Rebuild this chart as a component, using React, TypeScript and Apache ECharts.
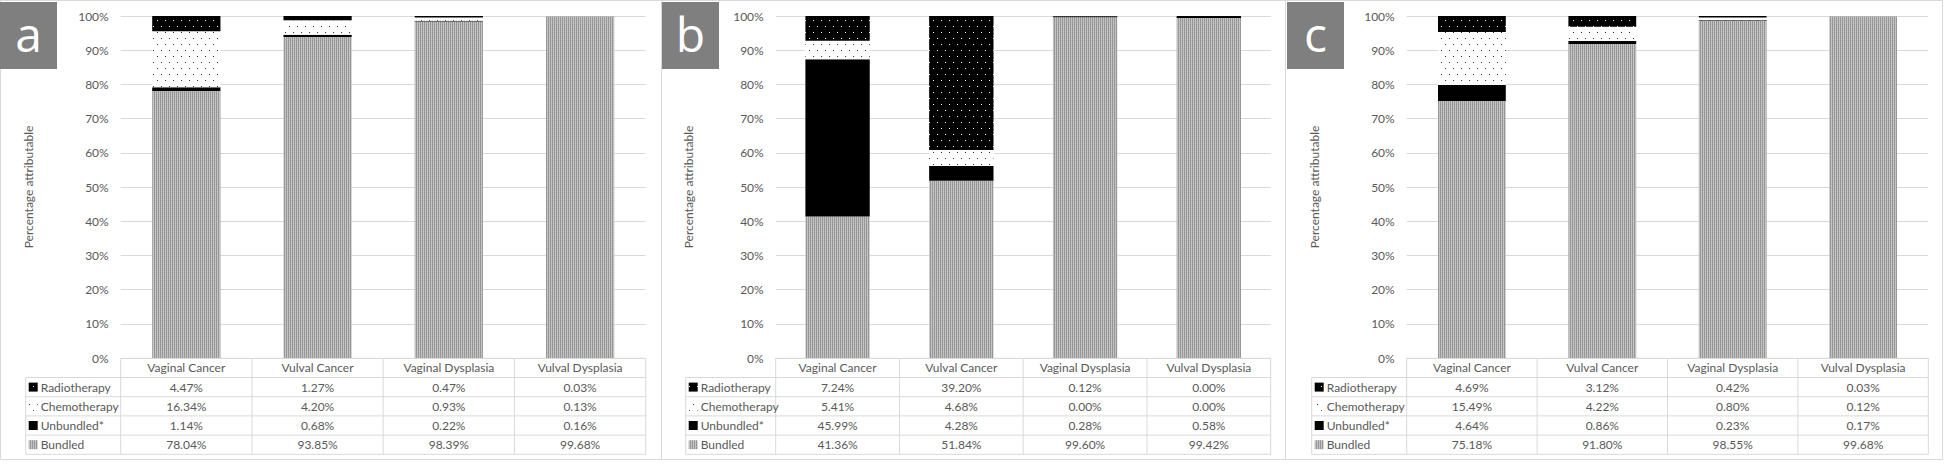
import React, { useEffect, useRef } from "react";
import * as echarts from "echarts";

// ---------------- data ----------------
const categories = ["Vaginal Cancer", "Vulval Cancer", "Vaginal Dysplasia", "Vulval Dysplasia"];
const seriesNames = ["Radiotherapy", "Chemotherapy", "Unbundled*", "Bundled"];
const panelLetters = ["a", "b", "c"];
const yAxisTitle = "Percentage attributable";

const radiotherapyA = [4.47, 1.27, 0.47, 0.03];
const chemotherapyA = [16.34, 4.2, 0.93, 0.13];
const unbundledA = [1.14, 0.68, 0.22, 0.16];
const bundledA = [78.04, 93.85, 98.39, 99.68];

const radiotherapyB = [7.24, 39.2, 0.12, 0.0];
const chemotherapyB = [5.41, 4.68, 0.0, 0.0];
const unbundledB = [45.99, 4.28, 0.28, 0.58];
const bundledB = [41.36, 51.84, 99.6, 99.42];

const radiotherapyC = [4.69, 3.12, 0.42, 0.03];
const chemotherapyC = [15.49, 4.22, 0.8, 0.12];
const unbundledC = [4.64, 0.86, 0.23, 0.17];
const bundledC = [75.18, 91.8, 98.55, 99.68];

const panelData = [
  [radiotherapyA, chemotherapyA, unbundledA, bundledA],
  [radiotherapyB, chemotherapyB, unbundledB, bundledB],
  [radiotherapyC, chemotherapyC, unbundledC, bundledC],
];

// ---------------- layout ----------------
const layout = [
  { x0: 0.5, x1: 661.5, boxX: 0, tableLeft: 25.7, gridLeft: 120.7, colW: 131.25, titleX: 28 },
  { x0: 661.5, x1: 1285.5, boxX: 662, tableLeft: 685.7, gridLeft: 775.7, colW: 123.75, titleX: 688 },
  { x0: 1285.5, x1: 1942.5, boxX: 1287, tableLeft: 1311.7, gridLeft: 1406.7, colW: 130.4, titleX: 1314 },
];
const GRID_TOP = 16;
const GRID_H = 342;
const TABLE_TOP = 358.3;
const ROW_H = 19.2;
const FONT = "Lato, 'Liberation Sans', sans-serif";
const TXT = "#595959";
const LINE = "#d9d9d9";

function makeCanvas(w: number, h: number, draw: (ctx: CanvasRenderingContext2D) => void) {
  const c = document.createElement("canvas");
  c.width = w;
  c.height = h;
  const ctx = c.getContext("2d")!;
  draw(ctx);
  return { image: c, repeat: "repeat", imageWidth: w, imageHeight: h } as any;
}

export default function App() {
  const ref = useRef<HTMLDivElement>(null);

  useEffect(() => {
    document.body.style.margin = "0";
    if (!ref.current) return;

    const radioPat = makeCanvas(8, 12, (ctx) => {
      ctx.fillStyle = "#000";
      ctx.fillRect(0, 0, 8, 12);
      ctx.fillStyle = "#fff";
      ctx.fillRect(1, 2, 1, 1);
      ctx.fillRect(5, 8, 1, 1);
    });
    const chemoPat = makeCanvas(8, 12, (ctx) => {
      ctx.fillStyle = "#fff";
      ctx.fillRect(0, 0, 8, 12);
      ctx.fillStyle = "#333";
      ctx.fillRect(1, 2, 1, 1);
      ctx.fillRect(5, 8, 1, 1);
    });
    const bundledPat = makeCanvas(2, 2, (ctx) => {
      ctx.fillStyle = "#c4c4c4";
      ctx.fillRect(0, 0, 2, 2);
      ctx.fillStyle = "#909090";
      ctx.fillRect(0, 0, 1, 1);
      ctx.fillStyle = "#9c9c9c";
      ctx.fillRect(0, 1, 1, 1);
    });
    const fills = [radioPat, chemoPat, "#000000", bundledPat];

    const chart = echarts.init(ref.current, null, { renderer: "svg" });

    const grids: any[] = [];
    const xAxes: any[] = [];
    const yAxes: any[] = [];
    const series: any[] = [];
    const elements: any[] = [];

    layout.forEach((L, p) => {
      const width = L.colW * categories.length;
      grids.push({ left: L.gridLeft, top: GRID_TOP, width, height: GRID_H });
      xAxes.push({
        type: "category",
        gridIndex: p,
        data: categories,
        axisLine: { show: false },
        axisTick: { show: false },
        axisLabel: { show: false },
      });
      yAxes.push({
        type: "value",
        gridIndex: p,
        min: 0,
        max: 100,
        interval: 10,
        axisLine: { show: false },
        axisTick: { show: false },
        axisLabel: { formatter: "{value}%", color: TXT, fontSize: 12, fontFamily: FONT, margin: 12 },
        splitLine: { lineStyle: { color: LINE, width: 1 } },
      });
      // stack from bottom: Bundled, Unbundled, Chemotherapy, Radiotherapy
      [3, 2, 1, 0].forEach((s) => {
        series.push({
          type: "bar",
          name: seriesNames[s],
          xAxisIndex: p,
          yAxisIndex: p,
          stack: "p" + p,
          barWidth: "52%",
          data: panelData[p][s],
          itemStyle: { color: fills[s] },
          silent: true,
        });
      });

      // panel border
      elements.push({
        type: "rect",
        silent: true,
        shape: { x: L.x0, y: 0.5, width: L.x1 - L.x0, height: 459 },
        style: { fill: "none", stroke: LINE, lineWidth: 1 },
      });
      // letter box
      elements.push({
        type: "rect",
        silent: true,
        shape: { x: L.boxX, y: 2, width: 57, height: 67 },
        style: { fill: "#7f7f7f" },
      });
      elements.push({
        type: "text",
        silent: true,
        x: L.boxX + 28.5,
        y: 33,
        style: {
          text: panelLetters[p],
          fill: "#ffffff",
          font: "48px 'Open Sans', 'Noto Sans', sans-serif",
          textAlign: "center",
          textVerticalAlign: "middle",
        },
      });
      // y-axis title
      elements.push({
        type: "text",
        silent: true,
        x: L.titleX,
        y: GRID_TOP + GRID_H / 2,
        rotation: Math.PI / 2,
        style: {
          text: yAxisTitle,
          fill: TXT,
          font: "12px " + FONT,
          textAlign: "center",
          textVerticalAlign: "middle",
        },
      });

      // table lines
      const right = L.gridLeft + width;
      const yBottom = TABLE_TOP + ROW_H * 5;
      elements.push({
        type: "line",
        silent: true,
        shape: { x1: L.gridLeft, y1: TABLE_TOP, x2: right, y2: TABLE_TOP },
        style: { stroke: LINE, lineWidth: 1 },
      });
      for (let r = 1; r <= 5; r++) {
        const y = TABLE_TOP + ROW_H * r;
        elements.push({
          type: "line",
          silent: true,
          shape: { x1: L.tableLeft, y1: y, x2: right, y2: y },
          style: { stroke: LINE, lineWidth: 1 },
        });
      }
      elements.push({
        type: "line",
        silent: true,
        shape: { x1: L.tableLeft, y1: TABLE_TOP + ROW_H, x2: L.tableLeft, y2: yBottom },
        style: { stroke: LINE, lineWidth: 1 },
      });
      for (let k = 0; k <= categories.length; k++) {
        const x = L.gridLeft + L.colW * k;
        elements.push({
          type: "line",
          silent: true,
          shape: { x1: x, y1: TABLE_TOP, x2: x, y2: yBottom },
          style: { stroke: LINE, lineWidth: 1 },
        });
      }
      // header
      categories.forEach((c, k) => {
        elements.push({
          type: "text",
          silent: true,
          x: L.gridLeft + L.colW * (k + 0.5),
          y: TABLE_TOP + ROW_H / 2,
          style: { text: c, fill: TXT, font: "12px " + FONT, textAlign: "center", textVerticalAlign: "middle" },
        });
      });
      // rows
      seriesNames.forEach((name, s) => {
        const cy = TABLE_TOP + ROW_H * (s + 1.5);
        elements.push({
          type: "rect",
          silent: true,
          shape: { x: L.tableLeft + 3, y: cy - 4.5, width: 9, height: 9 },
          style: { fill: fills[s] },
        });
        elements.push({
          type: "text",
          silent: true,
          x: L.tableLeft + 15,
          y: cy,
          style: { text: name, fill: TXT, font: "12px " + FONT, textAlign: "left", textVerticalAlign: "middle" },
        });
        panelData[p][s].forEach((v, k) => {
          elements.push({
            type: "text",
            silent: true,
            x: L.gridLeft + L.colW * (k + 0.5),
            y: cy,
            style: {
              text: v.toFixed(2) + "%",
              fill: TXT,
              font: "12px " + FONT,
              textAlign: "center",
              textVerticalAlign: "middle",
            },
          });
        });
      });
    });

    chart.setOption({
      animation: false,
      backgroundColor: "#ffffff",
      grid: grids,
      xAxis: xAxes,
      yAxis: yAxes,
      series,
      graphic: { elements },
    });

    return () => chart.dispose();
  }, []);

  return (
    <div
      ref={ref}
      style={{ width: 1946, height: 465, position: "absolute", left: 0, top: 0 }}
    />
  );
}
